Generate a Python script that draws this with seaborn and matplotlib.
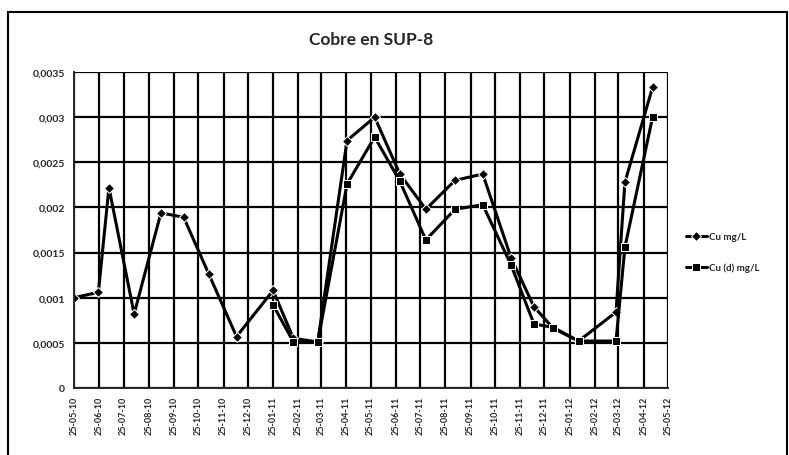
import pandas as pd
import seaborn as sns
import matplotlib
matplotlib.use("Agg")
import matplotlib.pyplot as plt
import matplotlib.dates as mdates
from matplotlib.ticker import FuncFormatter, MultipleLocator
from matplotlib.patches import Rectangle

# values
cu_dates = [
    "2010-05-25", "2010-06-24", "2010-07-07", "2010-08-07", "2010-09-09",
    "2010-10-07", "2010-11-07", "2010-12-11", "2011-01-25", "2011-02-19",
    "2011-03-21", "2011-04-26", "2011-05-30", "2011-06-30", "2011-08-01",
    "2011-09-06", "2011-10-10", "2011-11-14", "2011-12-12", "2012-01-05",
    "2012-02-05", "2012-03-22", "2012-04-02", "2012-05-06",
]
cu_total = [
    0.00100, 0.00106, 0.00222, 0.00082, 0.00194, 0.00189, 0.00126, 0.00057,
    0.00108, 0.00055, 0.00051, 0.00274, 0.00300, 0.00237, 0.00198, 0.00230,
    0.00237, 0.00144, 0.00090, 0.00066, 0.00052, 0.00084, 0.00228, 0.00333,
]
cu_d_dates = cu_dates[8:]
cu_dissolved = [
    0.00092, 0.00051, 0.00051, 0.00226, 0.00278, 0.00229, 0.00164, 0.00198,
    0.00203, 0.00136, 0.00071, 0.00067, 0.00052, 0.00052, 0.00156, 0.00300,
]

df_cu = pd.DataFrame({"fecha": pd.to_datetime(cu_dates), "valor": cu_total})
df_cud = pd.DataFrame({"fecha": pd.to_datetime(cu_d_dates), "valor": cu_dissolved})

sns.set_style("white")
plt.rcParams["font.family"] = ["Lato", "DejaVu Sans"]

fig = plt.figure(figsize=(7.89, 4.56), dpi=100)
ax = fig.add_axes([74 / 789, 1 - 389 / 456, (668 - 74) / 789, (389 - 73) / 456])

# outer chart frame
fig.patches.append(Rectangle((8 / 789, -0.05), 779 / 789, 1.05 - 13 / 456,
                             transform=fig.transFigure, fill=False,
                             edgecolor="black", linewidth=1.5))

sns.lineplot(data=df_cu, x="fecha", y="valor", ax=ax, color="black",
             linewidth=2.2, marker="D", markersize=5.5, label="Cu mg/L")
sns.lineplot(data=df_cud, x="fecha", y="valor", ax=ax, color="black",
             linewidth=2.2, marker="s", markersize=5.5, label="Cu (d) mg/L")

ax.set_xlim(pd.Timestamp("2010-05-25"), pd.Timestamp("2012-05-25"))
ax.set_ylim(0, 0.0035)
ax.yaxis.set_major_locator(MultipleLocator(0.0005))
ax.yaxis.set_major_formatter(FuncFormatter(lambda v, p: f"{v:.4f}".rstrip("0").rstrip(".").replace(".", ",") if v else "0"))
ax.xaxis.set_major_locator(mdates.MonthLocator(bymonthday=25))
ax.xaxis.set_major_formatter(mdates.DateFormatter("%d-%m-%y"))

ax.grid(True, color="black", linewidth=1.6)
ax.set_axisbelow(True)
for side in ["top", "right"]:
    ax.spines[side].set_visible(False)
ax.spines["left"].set_linewidth(1.4)
ax.spines["bottom"].set_linewidth(1.4)
ax.tick_params(axis="both", direction="inout", length=5, width=1, color="black")
ax.tick_params(axis="x", labelsize=6.5, rotation=90, pad=3)
ax.tick_params(axis="y", labelsize=7.5, pad=4)
for lbl in ax.get_yticklabels() + ax.get_xticklabels():
    lbl.set_fontweight("bold")

ax.set_xlabel("")
ax.set_ylabel("")
ax.set_title("Cobre en SUP-8", fontsize=12.5, fontweight="bold", pad=20)

leg = ax.legend(loc="center left", bbox_to_anchor=(1.015, 0.43), frameon=False,
                fontsize=7, handlelength=2.2, labelspacing=2.2, handletextpad=0.2)
for t in leg.get_texts():
    t.set_fontweight("bold")

plt.savefig("out.png", dpi=100)
